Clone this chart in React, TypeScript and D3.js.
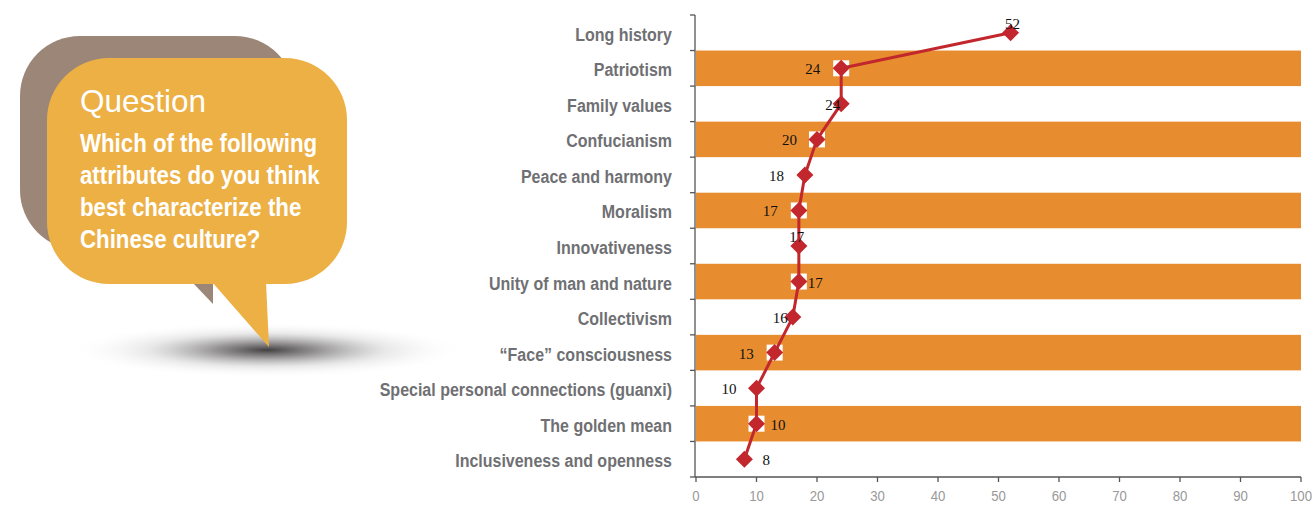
import React from "react";
import * as d3 from "d3";

const categories = [
  "Long history",
  "Patriotism",
  "Family values",
  "Confucianism",
  "Peace and harmony",
  "Moralism",
  "Innovativeness",
  "Unity of man and nature",
  "Collectivism",
  "\u201cFace\u201d consciousness",
  "Special personal connections (guanxi)",
  "The golden mean",
  "Inclusiveness and openness",
];
const values = [52, 24, 24, 20, 18, 17, 17, 17, 16, 13, 10, 10, 8];
const xTicks = [0, 10, 20, 30, 40, 50, 60, 70, 80, 90, 100];
const questionLines = [
  "Which of the following",
  "attributes do you think",
  "best characterize the",
  "Chinese culture?",
];

// where each value label sits relative to its marker (style only)
const labelPlace: { anchor: string; dx: number; dy: number }[] = [
  { anchor: "middle", dx: 2, dy: -4 },
  { anchor: "end", dx: -21, dy: 6 },
  { anchor: "end", dx: -1, dy: 6 },
  { anchor: "end", dx: -20, dy: 6 },
  { anchor: "end", dx: -21, dy: 6 },
  { anchor: "end", dx: -21, dy: 6 },
  { anchor: "middle", dx: -2, dy: -4 },
  { anchor: "start", dx: 9, dy: 6 },
  { anchor: "end", dx: -5, dy: 6 },
  { anchor: "end", dx: -21, dy: 6 },
  { anchor: "end", dx: -20, dy: 6 },
  { anchor: "start", dx: 14, dy: 6 },
  { anchor: "start", dx: 18, dy: 6 },
];

const W = 1312;
const H = 505;
const RED = "#C1272D";
const BAND = "#E88D2F";
const SANS = "Liberation Sans, Arial, sans-serif";

export default function App() {
  const x = d3.scaleLinear().domain([0, 100]).range([696, 1301]);
  const y = d3.scaleBand().domain(categories).range([15, 477]).paddingInner(0);
  const cy = (c: string) => (y(c) as number) + y.bandwidth() / 2;

  const pts: [number, number][] = categories.map((c, i) => [x(values[i]), cy(c)]);
  const line = d3.line()(pts) || "";

  const boundaries = d3.range(categories.length + 1).map((i) => 15 + i * y.bandwidth());

  return (
    <svg
      width={W}
      height={H}
      style={{ position: "absolute", left: 0, top: 0, background: "#fff" }}
    >
      <defs>
        <radialGradient id="shadow" cx="50%" cy="50%" r="50%">
          <stop offset="0%" stopColor="#3a3638" stopOpacity={0.95} />
          <stop offset="25%" stopColor="#5a5658" stopOpacity={0.65} />
          <stop offset="60%" stopColor="#999" stopOpacity={0.22} />
          <stop offset="100%" stopColor="#fff" stopOpacity={0} />
        </radialGradient>
      </defs>

      {/* speech bubble */}
      <ellipse cx={267} cy={350} rx={198} ry={28} fill="url(#shadow)" />
      <rect x={20} y={36} width={275} height={214} rx={60} fill="#9C8677" />
      <polygon points="193,283 213,283 213,304" fill="#9C8677" />
      <rect x={47} y={58} width={300} height={226} rx={62} fill="#ECB045" />
      <polygon points="212,282 269,347 266,282" fill="#ECB045" />
      <text x={80} y={112} fill="#fff" fontFamily={SANS} fontSize={31.5}>
        Question
      </text>
      {questionLines.map((t, i) => (
        <g key={t} transform={`translate(80, ${152 + i * 32}) scale(0.89,1)`}>
          <text fill="#fff" fontFamily={SANS} fontWeight="bold" fontSize={25}>
            {t}
          </text>
        </g>
      ))}

      {/* bands */}
      {categories.map((c, i) =>
        i % 2 === 1 ? (
          <rect key={c} x={x(0)} y={y(c)} width={x(100) - x(0)} height={y.bandwidth()} fill={BAND} />
        ) : null
      )}

      {/* y axis */}
      <line x1={695} x2={695} y1={15} y2={477} stroke="#555" strokeWidth={1.3} />
      {boundaries.map((b) => (
        <line key={b} x1={690} x2={695} y1={b} y2={b} stroke="#555" strokeWidth={1.3} />
      ))}
      {categories.map((c) => (
        <g key={c} transform={`translate(672, ${cy(c) + 8}) scale(0.865,1)`}>
          <text textAnchor="end" fill="#6f7073" fontFamily={SANS} fontWeight="bold" fontSize={18.5}>
            {c}
          </text>
        </g>
      ))}

      {/* x axis */}
      <line x1={695} x2={x(100)} y1={477} y2={477} stroke="#555" strokeWidth={1.3} />
      {xTicks.map((t) => (
        <g key={t}>
          <line x1={x(t)} x2={x(t)} y1={477} y2={482} stroke="#555" strokeWidth={1.3} />
          <g transform={`translate(${x(t)}, 501) scale(0.88,1)`}>
            <text textAnchor="middle" fill="#999" fontFamily={SANS} fontSize={15}>
              {t}
            </text>
          </g>
        </g>
      ))}

      {/* series */}
      {categories.map((c, i) =>
        i % 2 === 1 ? (
          <rect key={c} x={x(values[i]) - 8} y={cy(c) - 8} width={16} height={16} fill="#fff" />
        ) : null
      )}
      <path d={line} fill="none" stroke={RED} strokeWidth={3} strokeLinejoin="round" />
      {categories.map((c, i) => {
        const px = x(values[i]);
        const py = cy(c);
        const s = 8.5;
        return (
          <path
            key={c}
            d={`M${px},${py - s}L${px + s},${py}L${px},${py + s}L${px - s},${py}Z`}
            fill={RED}
          />
        );
      })}
      {categories.map((c, i) => {
        const p = labelPlace[i];
        return (
          <text
            key={c}
            x={x(values[i]) + p.dx}
            y={cy(c) + p.dy}
            textAnchor={p.anchor}
            fill="#111"
            fontFamily="Liberation Serif, Times New Roman, serif"
            fontSize={15}
          >
            {values[i]}
          </text>
        );
      })}
    </svg>
  );
}
